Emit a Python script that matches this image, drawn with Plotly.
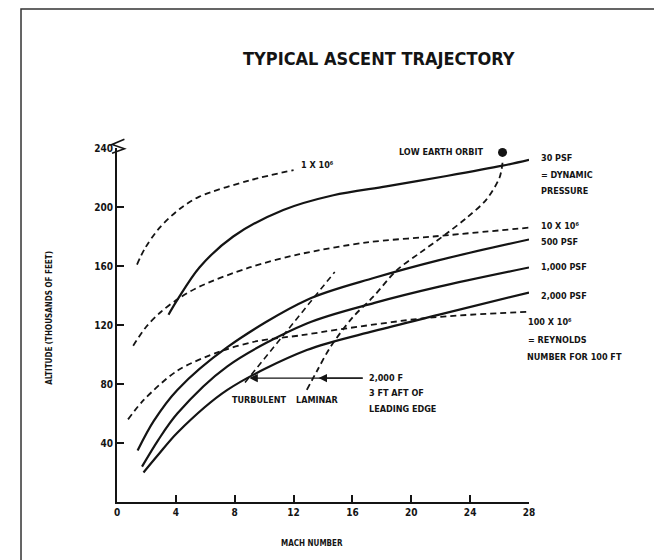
import plotly.graph_objects as go

# ---------------- data ----------------
x_ticks = [0, 4, 8, 12, 16, 20, 24, 28]
y_ticks = [40, 80, 120, 160, 200, 240]

# Reynolds number lines (dashed)
re1_x = [1.36, 1.9, 2.9, 4.3, 5.6, 9.0, 12.0]
re1_y = [161, 172, 186, 199, 207, 218, 225]
re10_x = [1.1, 2.0, 3.0, 4.2, 5.6, 9.0, 12.4, 17.0, 21.5, 28.0]
re10_y = [106, 119, 129, 138, 146, 159, 168, 176, 180, 186]
re100_x = [0.75, 1.8, 4.1, 7.0, 9.5, 12.5, 15.1, 21.3, 28.0]
re100_y = [56, 69, 89, 102, 109, 113, 117, 125, 129]

# Dynamic pressure lines (solid)
q30_x = [3.5, 4.1, 5.6, 7.9, 11.3, 14.7, 18.3, 22.4, 26.2, 28.0]
q30_y = [127, 137, 159, 180, 198, 208, 214, 221, 228, 232]
q500_x = [1.4, 2.5, 4.1, 7.5, 12.9, 17.5, 21.9, 28.0]
q500_y = [35, 55, 76, 105, 137, 152, 164, 178]
q1000_x = [1.7, 2.8, 4.1, 7.5, 12.9, 17.5, 21.9, 28.0]
q1000_y = [24, 42, 60, 92, 121, 135, 146, 159]
q2000_x = [1.8, 2.8, 4.1, 7.5, 12.9, 17.5, 21.9, 28.0]
q2000_y = [20, 32, 47, 76, 103, 116, 127, 142]

# Ascent trajectory (dashed) and turbulent transition line
traj_x = [12.9, 13.6, 14.5, 16.0, 17.4, 19.0, 20.6, 22.4, 23.8, 25.1, 26.0, 26.2]
traj_y = [76, 89, 105, 125, 139, 157, 169, 182, 193, 205, 220, 230]
turb_x = [8.7, 14.8]
turb_y = [81, 156]

leo_x = [26.2]
leo_y = [237]

X_MAX, Y_MAX = 28, 240

# ---------------- figure ----------------
INK = "#141414"
FONT = "DejaVu Sans Condensed"
fig = go.Figure()

def add_line(x, y, dashed, width=2.0):
    fig.add_trace(go.Scatter(
        x=x, y=y, mode="lines",
        line=dict(color=INK, width=width, shape="spline", smoothing=0.9,
                  dash="6px,4px" if dashed else "solid"),
        hoverinfo="skip", showlegend=False))

add_line(re1_x, re1_y, True, 1.8)
add_line(re10_x, re10_y, True, 1.8)
add_line(re100_x, re100_y, True, 1.8)
add_line(q30_x, q30_y, False, 2.2)
add_line(q500_x, q500_y, False, 2.2)
add_line(q1000_x, q1000_y, False, 2.2)
add_line(q2000_x, q2000_y, False, 2.2)
add_line(traj_x, traj_y, True, 1.8)
add_line(turb_x, turb_y, True, 1.6)

fig.add_trace(go.Scatter(x=leo_x, y=leo_y, mode="markers",
                         marker=dict(color=INK, size=9), cliponaxis=False,
                         hoverinfo="skip", showlegend=False))

def lab(x, y, text, anchor="left", size=9):
    # placed in paper units so labels outside the axis range stay visible
    fig.add_annotation(x=x / X_MAX, y=y / Y_MAX, xref="paper", yref="paper",
                       text=f"<b>{text}</b>",
                       showarrow=False, xanchor=anchor, yanchor="middle",
                       font=dict(family=FONT, size=size, color=INK))

# curve labels
lab(12.4, 228.5, "1 X 10⁶")
lab(25.1, 237, "LOW EARTH ORBIT", anchor="right")
lab(28.7, 233, "30 PSF")
lab(28.7, 222, "= DYNAMIC")
lab(28.7, 211, "PRESSURE")
lab(28.7, 187, "10 X 10⁶")
lab(28.7, 176, "500 PSF")
lab(28.7, 159, "1,000 PSF")
lab(28.7, 140, "2,000 PSF")
lab(27.8, 122, "100 X 10⁶")
lab(27.8, 110, "= REYNOLDS")
lab(27.7, 98, "NUMBER FOR 100 FT")
lab(17.0, 84, "2,000 F")
lab(17.0, 74, "3 FT AFT OF")
lab(17.0, 63, "LEADING EDGE")
lab(9.7, 69, "TURBULENT", anchor="center")
lab(13.6, 69, "LAMINAR", anchor="center")

# arrows from the temperature note to the transition lines
for head_x in [9.0, 13.7]:
    fig.add_annotation(x=head_x, y=84, ax=16.8, ay=84, xref="x", yref="y",
                       axref="x", ayref="y", text="", showarrow=True,
                       arrowhead=2, arrowsize=1.2, arrowwidth=1.4, arrowcolor=INK)

# title and axis titles
fig.add_annotation(x=0.636, y=1.254, xref="paper", yref="paper",
                   xanchor="center", yanchor="middle",
                   text="<b>TYPICAL ASCENT TRAJECTORY</b>", showarrow=False,
                   font=dict(family=FONT, size=18, color=INK))
fig.add_annotation(x=0.473, y=-0.117, xref="paper", yref="paper",
                   xanchor="center", yanchor="middle",
                   text="<b>MACH NUMBER</b>", showarrow=False,
                   font=dict(family=FONT, size=8, color=INK))
fig.add_annotation(x=-0.163, y=0.52, xref="paper", yref="paper",
                   xanchor="center", yanchor="middle",
                   text="<b>ALTITUDE (THOUSANDS OF FEET)</b>", showarrow=False,
                   textangle=-90, font=dict(family=FONT, size=8, color=INK))

# axis break symbol at top of y axis, and outer frame
fig.add_shape(type="path", xref="paper", yref="paper",
              path="M -0.012 0.985 L 0.018 0.998 L -0.012 1.01 L 0.018 1.025",
              line=dict(color=INK, width=1.6))
fig.add_shape(type="rect", xref="paper", yref="paper",
              x0=-0.233, x1=1.306, y0=-0.25, y1=1.393,
              line=dict(color="#333333", width=1.5))

# page body has an 8px default margin, so the figure is 8px smaller
fig.update_layout(
    width=654, height=552,
    margin=dict(l=109, r=133, t=140, b=58),
    paper_bgcolor="white", plot_bgcolor="white",
    showlegend=False,
    xaxis=dict(range=[0, X_MAX], tickvals=x_ticks,
               ticktext=[f"<b>{v}</b>" for v in x_ticks],
               showline=True, linecolor=INK, linewidth=2, mirror=False,
               ticks="inside", ticklen=7, tickwidth=1.5, tickcolor=INK,
               showgrid=False, zeroline=False,
               tickfont=dict(family=FONT, size=10, color=INK)),
    yaxis=dict(range=[0, Y_MAX], tickvals=y_ticks,
               ticktext=[f"<b>{v}</b>" for v in y_ticks],
               showline=True, linecolor=INK, linewidth=2,
               ticks="inside", ticklen=7, tickwidth=1.5, tickcolor=INK,
               showgrid=False, zeroline=False,
               tickfont=dict(family=FONT, size=10, color=INK)),
)

fig.write_html("out.html")
